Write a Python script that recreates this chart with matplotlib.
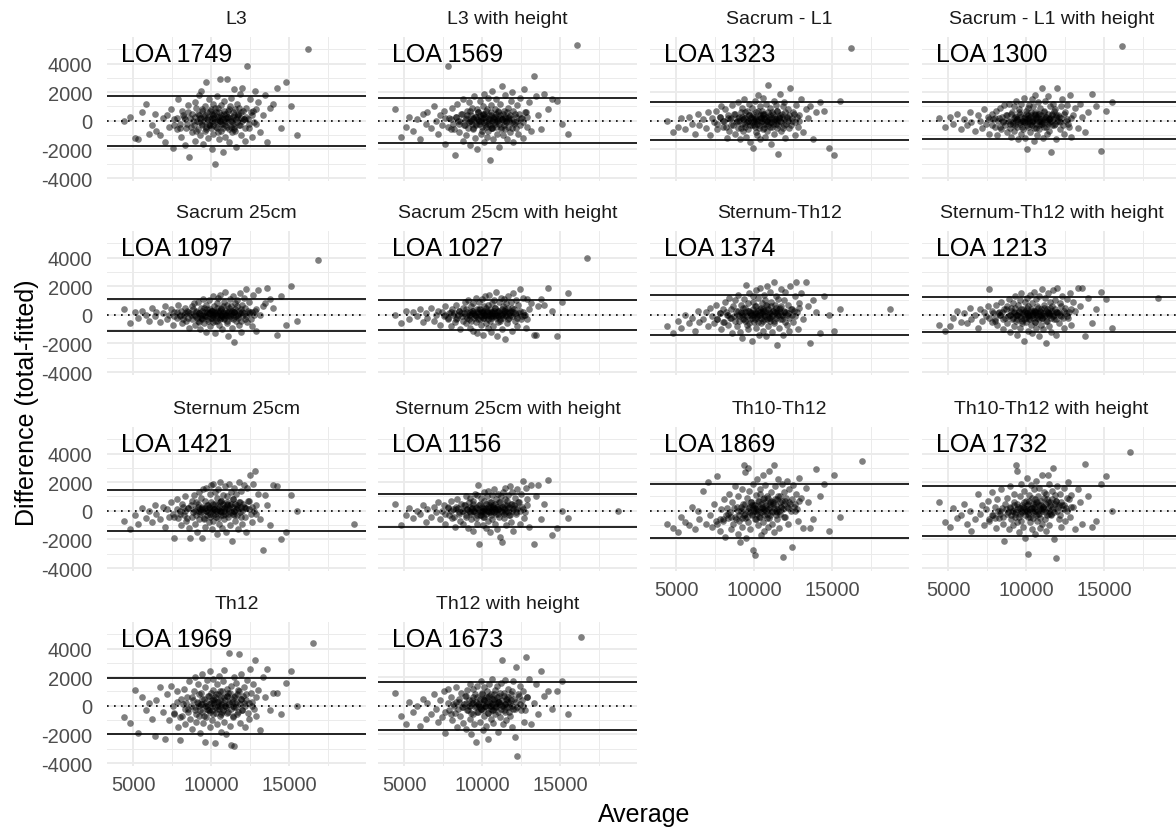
import matplotlib
matplotlib.use("Agg")
import matplotlib.pyplot as plt
from matplotlib.ticker import FixedLocator

plt.rcParams['font.family'] = ['Liberation Sans', 'DejaVu Sans']
plt.rcParams['axes.unicode_minus'] = False

panel_titles = ["L3", "L3 with height", "Sacrum - L1", "Sacrum - L1 with height",
                "Sacrum 25cm", "Sacrum 25cm with height", "Sternum-Th12", "Sternum-Th12 with height",
                "Sternum 25cm", "Sternum 25cm with height", "Th10-Th12", "Th10-Th12 with height",
                "Th12", "Th12 with height"]
loa_values = [1749, 1569, 1323, 1300, 1097, 1027, 1374, 1213, 1421, 1156, 1869, 1732, 1969, 1673]

x_ticks = [5000, 10000, 15000]
x_minor = [7500, 12500, 17500]
y_ticks = [-4000, -2000, 0, 2000, 4000]
y_minor = [-3000, -1000, 1000, 3000, 5000]

# subjects spread over the full range (estimated)
average = [
    4400, 4800, 5100, 5300, 5600, 5800, 6000, 6200, 6400, 6500,
    6700, 6900, 7050, 7200, 7300, 7450, 7550, 7650, 7800, 7900,
    8000, 8100, 8150, 8250, 8350, 8400, 8500, 8600, 8650, 8750,
    8800, 8900, 8950, 9000, 9050, 9100, 9150, 9200, 9250, 9300,
    9350, 9400, 9450, 9500, 9550, 9600, 9620, 9650, 9700, 9750,
    9800, 9850, 9900, 9950, 10000, 10050, 10100, 10120, 10150, 10200,
    10250, 10300, 10350, 10380, 10400, 10450, 10500, 10550, 10600, 10620,
    10650, 10700, 10750, 10800, 10850, 10900, 10950, 11000, 11050, 11100,
    11150, 11200, 11250, 11300, 11350, 11400, 11450, 11500, 11550, 11600,
    11650, 11700, 11800, 11850, 11900, 11950, 12000, 12100, 12200, 12250,
    12300, 12400, 12500, 12600, 12700, 12800, 12900, 13000, 13150, 13300,
    13450, 13600, 13800, 13950, 14200, 14500, 14800, 15100, 15500,
]

# subjects in the dense centre of the clouds (estimated)
core_average = [
    7600, 7800, 8000, 8200, 8300, 8450, 8550, 8700, 8850, 8950,
    9050, 9150, 9250, 9300, 9400, 9450, 9550, 9600, 9700, 9750,
    9800, 9880, 9920, 10000, 10030, 10080, 10150, 10180, 10220, 10280,
    10320, 10370, 10420, 10470, 10520, 10560, 10610, 10660, 10700, 10740,
    10780, 10830, 10880, 10920, 10970, 11020, 11070, 11120, 11180, 11230,
    11280, 11330, 11380, 11430, 11480, 11530, 11580, 11630, 11680, 11730,
    11780, 11830, 11900, 11980, 12050, 12150, 12250, 12350, 12450, 12550,
    12650, 12750, 12850, 9350, 9850, 10050, 10600, 11000, 11500, 12100,
]

diff_l3 = [
    0, 300, -1200, -1300, 600, 1200, -900, -300, 500, -700,
    -1000, 200, -1500, 400, -400, 800, -1900, 100, -600, 1500,
    -200, -1100, 700, 300, -1700, -500, 1100, -2500, 200, -800,
    500, -300, 1300, -1400, 900, 0, -600, 1800, 400, -1000,
    2100, -200, 700, -1600, 300, 1000, -700, 2700, -400, 600,
    -1200, 1500, 100, -300, 800, -2000, 400, 1200, -900, 200,
    -3000, 600, 1700, -500, 0, 900, -1300, 300, 2900, -700,
    1100, -200, -2200, 500, 1400, -1100, 200, 2900, -400, 700,
    -1500, 1000, 0, 1600, -800, 300, 2200, -600, 800, -1800,
    1200, 400, -300, 1900, -1000, 600, 2300, 100, -1400, 900,
    3800, -500, 1500, -1100, 700, 2100, -200, 1300, -800, 400,
    1800, -1500, 900, 1200, 2300, -500, 2700, 1000, -1000,
]
core_l3 = [
    -300, 200, -500, 400, 100, -200, 600, -400, 0, 300,
    -700, 500, -100, 200, 800, -300, 0, 400, -600, 100,
    300, -200, 700, -500, 0, 200, -300, 500, -100, 900,
    -400, 100, 300, -800, 600, 0, -200, 400, 200, -500,
    100, 700, -300, 0, 500, -100, 300, -600, 800, 200,
    -400, 0, 600, -200, 400, -700, 100, 300, -100, 500,
    900, -300, 200, 0, 700, -500, 300, 100, -200, 600,
    400, -100, 800, 200, -300, 500, 0, 300, -400, 100,
]
diff_l3_h = [
    800, -1100, -400, 300, -700, 100, -1300, 500, -200, 600,
    -500, 1000, 0, -900, 400, -300, 700, -1600, 3800, 200,
    -600, 900, -200, -2400, 300, 1200, -800, 0, 500, -1400,
    1500, -300, 200, -1000, 700, -500, 1300, 0, -1700, 400,
    900, -600, 100, 1700, -1200, 300, -200, 800, -2000, 600,
    0, 1400, -900, 200, -400, 1000, -1500, 500, 1900, -300,
    700, -1100, 200, 1600, -700, 0, -2700, 400, 1100, -500,
    2100, -1300, 300, 800, -200, 1500, -900, 0, 600, -1800,
    1200, -400, 2400, 100, -1000, 700, -600, 1800, 0, -1300,
    900, 300, -800, 1400, -100, 2000, -1500, 500, -500, 1100,
    -900, 1600, 200, -1200, 2200, 600, -400, 1300, -700, 3100,
    1700, 400, -600, 1900, 800, 1500, 1400, -200, -900,
]
core_l3_h = [
    200, -400, 100, -600, 300, 0, -200, 500, -300, 100,
    400, -100, 700, 0, -500, 200, 300, -300, 100, 600,
    -200, 400, 0, -700, 200, 500, -100, 300, -400, 0,
    800, -200, 100, 400, -300, 600, 0, -500, 200, 100,
    -100, 300, 500, -400, 0, 700, -200, 200, 400, -600,
    100, 500, -300, 0, 300, -100, 600, -400, 200, 0,
    400, 100, -500, 700, -200, 300, 0, 500, -300, 200,
    -100, 600, 300, -200, 0, 400, -500, 100, 200, -100,
]
diff_sacrum_l1 = [
    0, -800, -400, 200, -600, 300, -200, -900, 500, -300,
    100, -500, 600, -1000, 200, -100, 700, -600, 300, 1000,
    -400, 0, 800, -1200, 400, -700, 200, 1100, -300, 500,
    -900, 0, 1300, -500, 300, -1300, 600, -200, 900, -700,
    1500, -400, 200, -1100, 700, 0, -600, 1200, 400, -1500,
    300, 900, -1900, 100, -300, 1400, -800, 600, 0, -1000,
    1800, -500, 300, 1000, -1300, 200, 700, -600, 1600, -200,
    500, -1100, 1200, 0, -700, 2500, 300, -400, 900, -1600,
    600, -200, 1400, -900, 100, 1100, -500, 700, -2300, 300,
    1900, -700, 500, 1000, -300, 1300, -1200, 200, 800, -500,
    2300, 0, 600, -1000, 1100, -400, 400, 1500, -800, 800,
    200, 1000, -1300, 600, 1300, 700, -1900, -2400, 1400,
]
core_sacrum_l1 = [
    -200, 300, 0, -400, 200, 100, -300, 500, -100, 200,
    0, -500, 300, 100, -200, 600, -100, 0, 400, -300,
    200, -100, 500, 0, -400, 300, 100, -200, 700, 0,
    -300, 400, 200, -100, 0, 500, -500, 200, 100, 300,
    -200, 0, 600, -300, 100, 400, -100, 200, -400, 500,
    0, 300, -200, 100, 700, -300, 200, 0, 400, -100,
    300, -500, 100, 600, -200, 0, 400, -300, 200, 500,
    -100, 300, 0, 200, -300, 100, 400, -100, 0, 300,
]
diff_sacrum_l1_h = [
    200, -400, 300, -200, 500, -600, 100, -300, 600, -100,
    -700, 400, 0, -500, 800, -200, 300, -900, 500, 100,
    -400, 700, -1000, 200, 900, -600, 0, 1100, -300, -800,
    400, 1200, -500, 0, -1100, 600, -200, 1000, -700, 300,
    1400, -400, 100, -1300, 800, -100, 500, -900, 1200, 0,
    -600, 1600, 300, -1200, 700, -2000, 200, 900, -400, 1100,
    -800, 400, 1500, -300, 0, 1000, -1400, 600, 1800, -500,
    200, -1000, 1300, 500, -600, 900, -200, 2300, 0, -1200,
    700, 1400, -400, 300, -900, 1700, 100, -700, 1000, -2200,
    500, 1200, -300, 800, -1300, 400, 2300, 0, -600, 1000,
    1500, -900, 600, 1100, -200, 1800, -1100, 400, 900, -500,
    1200, 300, -800, 600, 1900, 1000, -2100, 700, 1300,
]
core_sacrum_l1_h = [
    100, -300, 200, 0, -400, 300, -100, 400, 0, -200,
    500, -100, 200, -300, 100, 0, 600, -200, 300, -400,
    0, 200, -100, 500, 100, -300, 400, 0, -200, 300,
    600, -100, 0, 200, -500, 400, 100, -200, 300, 0,
    500, -300, 100, 0, 400, -100, 200, 600, -400, 100,
    300, 0, -200, 500, -100, 200, 0, 400, -300, 100,
    700, -200, 300, 0, 400, -100, 200, -300, 500, 0,
    100, -400, 200, 300, -100, 0, 500, -200, 100, 300,
]
diff_sacrum_25 = [
    400, -600, 200, -200, 300, 0, -400, 500, -100, 200,
    -500, 100, 600, -300, 0, 400, -700, 200, -200, 700,
    -100, 300, -600, 0, 500, -400, 200, -900, 100, 600,
    -300, 800, 0, -700, 300, -200, 900, -500, 100, -1000,
    500, 0, -300, 1100, -600, 200, -100, 700, -1200, 400,
    -400, 1000, 100, -800, 300, -200, 1300, 0, -500, 600,
    -1300, 200, 800, -400, 0, 1200, -700, 300, 1400, -200,
    500, -1000, 100, 900, -300, 1600, 0, -600, 700, -1500,
    300, 1100, -200, 600, -900, 1300, -1900, 200, 800, -400,
    1000, 0, -700, 1500, 400, -1200, 700, 1200, -300, 1800,
    -500, 900, 200, -800, 1400, 300, -1100, 1700, 0, 600,
    800, 1900, 1100, 500, -1400, 1300, -700, 2000, -400,
]
core_sacrum_25 = [
    -100, 200, 0, -300, 100, 300, -200, 0, 400, -100,
    200, -400, 100, 0, 300, -200, 500, 0, -100, 200,
    -300, 100, 400, -200, 0, 300, -100, 200, -400, 100,
    0, 500, -200, 300, 100, -300, 0, 400, -100, 200,
    600, -200, 100, 0, 300, -400, 200, 0, 500, -100,
    100, 300, -300, 0, 200, 400, -100, 600, 0, -200,
    300, 100, -400, 200, 0, 500, -100, 300, 100, -300,
    200, 0, 400, -200, 100, 300, 0, -100, 200, 100,
]
diff_sacrum_25_h = [
    0, -600, 300, -300, 200, -100, 400, -500, 100, -200,
    500, -400, 0, 300, -700, 200, -100, 600, -300, 100,
    -800, 400, 0, -500, 700, -200, 300, -1000, 100, 500,
    -400, 900, -100, -600, 200, 1000, -300, 0, -900, 600,
    300, -1100, 800, -200, 0, 1200, -500, 400, -1300, 100,
    900, -300, 200, -700, 1100, -1400, 0, 600, -200, 1300,
    -600, 300, -900, 700, 0, 1400, -400, 200, -1200, 800,
    100, -800, 1000, -100, 500, 1600, -1500, 300, -500, 900,
    -300, 1200, 0, -1000, 600, 1100, -1700, 400, 800, -600,
    1300, -200, 200, 900, -1100, 500, 1500, -400, 1000, -800,
    700, 1800, -300, 1200, 0, -900, 1100, 400, 800, -1400,
    -1400, 600, 1100, 700, 1900, 300, -1500, 900, 1500,
]
core_sacrum_25_h = [
    0, -200, 200, 100, -300, 0, 300, -100, 100, 400,
    -200, 0, 200, -400, 100, 300, 0, -100, 200, -300,
    400, 0, -100, 200, 100, -200, 300, 0, 500, -100,
    200, -300, 0, 100, 400, -200, 200, 0, -100, 300,
    100, 500, -200, 0, 200, -100, 300, -400, 100, 0,
    400, -200, 100, 300, 0, -100, 200, 500, -300, 100,
    0, 300, -100, 200, 400, 0, -200, 100, 300, -100,
    200, 0, -300, 100, 400, 200, -100, 0, 300, 100,
]
diff_sternum_th12 = [
    -800, -1300, -400, -900, 0, -600, -200, -1100, 300, -500,
    -300, 200, -800, 500, -100, -600, 700, -300, 100, -1000,
    400, -500, 900, 0, -700, 1200, -200, -1300, 600, -400,
    1000, -800, 300, 1400, -100, -1200, 700, 0, -1600, 500,
    1100, -400, 200, 2100, -700, 800, -1000, 300, 1500, -300,
    0, -1800, 900, 1300, -500, 200, 1700, -900, 600, -200,
    1200, -1400, 400, 0, 1900, -600, 800, -1100, 300, 1400,
    -300, 1000, -1500, 600, 2000, -800, 200, 1600, -400, 900,
    -1200, 300, 2300, -600, 700, 1300, -2100, 0, 1100, -900,
    500, 1800, -300, -1400, 1000, 200, 1600, -700, 700, -1100,
    2000, 400, -500, 1300, 2300, -1000, 800, 1500, -300, 2300,
    600, -2000, 1000, 200, -1300, 1300, 0, -1100, 400,
]
core_sternum_th12 = [
    -300, 100, -500, 200, 0, -200, 400, -100, 300, 0,
    -400, 200, 100, -300, 500, 0, -100, 300, -600, 200,
    100, -200, 400, 0, -300, 600, 100, -100, 300, -500,
    0, 200, -200, 500, 100, -400, 300, 0, -100, 700,
    200, -300, 0, 400, -200, 100, 600, -100, 0, 300,
    -400, 200, 500, -200, 100, 0, 400, -300, 200, 600,
    0, -100, 300, -500, 200, 100, -200, 400, 0, 300,
    -100, 200, 500, -300, 0, 100, 400, -200, 300, 0,
]
diff_sternum_th12_h = [
    -700, -1100, -800, -200, 300, -500, 100, -600, 500, -300,
    0, -900, 400, -400, 200, -100, 600, 1800, -500, 100,
    -300, 700, -700, 200, 0, 900, -1000, 400, -200, 600,
    -600, 1100, 0, -1200, 500, -300, 800, -800, 200, 1300,
    -400, 0, -1400, 700, 300, -900, 1000, -200, 1500, -600,
    400, -1800, 200, 900, -500, 1200, -1100, 0, 600, -300,
    1400, -700, 300, -1300, 800, 0, 1600, -500, 200, -900,
    1100, -200, 500, -1500, 1300, 300, -700, 1800, 0, -1000,
    700, 1200, -400, -2000, 400, 1500, -800, 100, 900, -1200,
    600, 1700, -300, 1000, -1400, 200, 1900, -600, 800, -100,
    1300, -900, 500, 1100, -200, 1500, -700, 900, 300, 1900,
    600, 1900, -1500, 1200, -600, 400, 1600, 1100, -900,
]
core_sternum_th12_h = [
    -200, 300, -400, 100, 0, 200, -300, 400, -100, 0,
    300, -200, 100, 500, -300, 0, 200, -100, 400, -400,
    100, 0, 300, -200, 500, 100, -100, 0, 200, -300,
    400, 0, -200, 100, 300, -500, 200, 0, 600, -100,
    100, -300, 200, 0, 400, -200, 100, 500, -100, 0,
    300, -400, 100, 200, 0, 500, -200, 100, 300, -100,
    0, 400, -300, 200, 100, 0, 600, -200, 300, 100,
    -100, 200, 400, 0, -300, 100, 300, -200, 0, 200,
]
diff_sternum_25 = [
    -700, -1300, -300, -900, 200, -500, 0, -800, 400, -200,
    -600, 300, -1100, 100, -400, 600, -200, -1900, 800, -500,
    0, -1000, 500, -300, 1000, -700, 200, -1200, -1900, 700,
    -400, 1100, 0, -900, 600, -1500, 300, 1300, -600, 100,
    900, -1900, 200, 1500, -500, -1100, 700, 0, 1600, -300,
    400, -800, 1200, -200, 1800, -1300, 500, 1900, -700, 100,
    1300, -400, 900, -1600, 0, 1500, -900, 600, 2000, -300,
    700, -1200, 1100, 200, -600, 1700, -1500, 400, 1000, -200,
    1900, -1000, 500, 1300, -2100, 800, 0, 1600, -700, 1200,
    300, -1300, 2000, 600, -400, 1400, -900, 1800, 200, -1500,
    1600, 700, 2500, -800, 1900, 2800, -200, 1200, -600, -2700,
    1100, 400, -1000, 1800, 1700, -2000, -1500, 1100, 0,
]
core_sternum_25 = [
    -400, 100, -200, 300, 0, -500, 200, 400, -100, 100,
    -300, 500, 0, -200, 300, 100, -600, 200, 0, 400,
    -100, 300, -400, 600, 0, 200, -300, 100, 500, -200,
    0, 400, 100, -500, 300, 0, 700, -100, 200, -300,
    500, 0, 300, -200, 100, 600, -400, 200, 0, 400,
    -100, 300, 800, -200, 0, 500, 100, -300, 400, 200,
    600, -100, 300, 0, 500, -400, 200, 700, 100, -200,
    300, 0, 400, -100, 200, 100, 0, 500, -300, 300,
]
diff_sternum_25_h = [
    500, -1000, -300, 200, -500, 0, -200, 400, -800, 100,
    -400, 300, -100, 600, -600, 0, 400, -900, 200, -300,
    700, -500, 100, -1100, 300, 800, -200, -700, 500, 0,
    -900, 400, 1000, -400, 100, -1200, 600, -100, 900, -600,
    200, -1400, 700, 0, 1200, -500, 300, -900, 1100, 1800,
    -2300, 500, -300, 900, 0, -1000, 1300, -400, 700, 200,
    -1200, 1000, 0, -700, 1400, 400, -1500, 600, -100, 1100,
    -600, 300, 1500, -900, 100, 800, -1300, 1200, -200, 600,
    -1800, 1000, 300, -2200, 1300, -500, 800, 1600, -1000, 400,
    1100, -300, 1700, -800, 500, 1300, -1400, 900, -100, 1500,
    600, -900, 1200, 2100, -500, 1600, 800, -1100, 1800, -2300,
    1000, 1800, -600, 500, 2150, -1700, -1200, 0, -500,
]
core_sternum_25_h = [
    -200, 300, 0, -400, 100, 200, -100, 0, 400, -300,
    100, 0, 300, -200, 500, 0, -100, 200, -300, 100,
    400, -100, 0, 300, -400, 200, 100, 0, -200, 500,
    0, 300, -100, 200, 600, -300, 100, 0, 400, -100,
    200, 500, -200, 0, 300, 100, -400, 200, 600, 0,
    -100, 300, 100, -200, 400, 0, 700, -100, 200, 300,
    -300, 500, 0, 100, 400, -200, 200, 600, 0, 300,
    100, -100, 400, 200, -300, 0, 300, 100, -100, 200,
]
diff_th10_th12 = [
    -900, -1200, -1500, -400, -800, -1000, 300, -1300, 0, -600,
    1400, -900, 2000, -300, -1100, 500, -700, 2400, -1400, 100,
    -600, 800, -1800, 200, -200, 1200, -1300, 600, -900, 1700,
    -400, 300, -1600, 1000, -700, -2200, 0, 1500, -1100, 500,
    3200, -500, 2700, -1900, 900, 3000, -800, 200, 1400, -1300,
    600, -200, 1900, -2700, 400, -3100, 1100, -600, 0, 2200,
    -1000, 700, 1500, -400, 1200, -1700, 300, 2500, -800, 900,
    -1400, 1800, 200, -500, 1000, -1100, 2800, 500, -300, 1300,
    -900, 600, 3200, -1500, 1700, 0, 800, -600, 2200, -1200,
    1000, 300, 1900, -3200, 1300, -400, 700, 2100, -900, 1500,
    500, -2500, 1800, 0, 1200, -700, 2300, 900, -1200, 1600,
    600, -1200, -600, 2900, 1000, 1900, -1400, 2500, -400,
]
core_th10_th12 = [
    -900, -600, -700, -300, -500, -100, -400, 200, -600, 0,
    -300, 300, -500, 100, -200, 500, -400, 0, 300, -100,
    600, -300, 200, 0, -600, 400, 100, -200, 700, 0,
    -400, 300, 500, -100, 200, 800, -300, 100, 600, 0,
    400, -200, 900, 100, -500, 300, 700, 0, -100, 500,
    200, 800, -300, 400, 100, 1000, 0, 600, -200, 300,
    700, 100, 500, -400, 900, 200, 600, 0, 800, 300,
    500, 100, 700, -300, 400, 200, 0, 600, -100, 300,
]
diff_th10_th12_h = [
    650, -800, -1100, 200, -500, -300, 500, -900, 0, -1400,
    -600, 1200, -200, 400, -1000, 100, 700, -700, 1300, -300,
    300, -1200, 800, -500, 0, 1500, -900, -2100, 500, -200,
    900, -1300, 200, 1700, -600, 0, -1000, 600, 1200, -400,
    3200, -800, 2800, 300, -1500, 1000, -200, 1900, -700, 400,
    -1100, 1400, 0, -1900, 700, 2300, -3000, 500, -400, 1100,
    -800, 1800, 200, -1300, 900, -500, 1500, 0, -1600, 600,
    2100, -700, 1000, -200, 1600, -1200, 400, 2500, -900, 300,
    1300, -600, 1200, -1400, 800, 2500, 1900, -1000, 600, -300,
    1400, 3000, -2000, 1100, -3300, 700, 1700, -600, 1200, -1100,
    400, 1600, -700, 900, 2000, -400, 1100, 300, -1300, 1500,
    600, -900, 3250, 1000, -1100, -700, 1900, 2400, 0,
]
core_th10_th12_h = [
    -600, -300, -500, 0, -200, 200, -400, 100, -100, 300,
    -300, 0, 400, -200, 100, 500, -400, 200, 0, -100,
    300, 600, -300, 100, 0, 400, -200, 700, 100, -400,
    200, 0, 500, -100, 300, 800, -300, 100, 600, 0,
    -200, 400, 200, -500, 700, 0, 300, 100, 900, -100,
    500, -300, 200, 600, 0, 400, -200, 800, 100, 300,
    -100, 500, 700, 0, 300, -300, 600, 100, 400, 200,
    0, 800, 300, -100, 200, 0, 500, 100, -200, 400,
]
diff_th12 = [
    -800, -1200, 1100, -1900, 600, -300, 200, -900, -2100, 400,
    1300, -400, -2300, 800, -1000, 1400, 0, -600, 1000, -1500,
    -2400, 500, -700, 1200, -1300, 200, -200, 1700, -900, 600,
    -1600, 1000, -300, 2000, -1100, 300, 1500, -700, 0, -1900,
    900, -400, 2200, -1200, 500, -2500, 1300, 0, -800, 1800,
    -300, 700, -1500, 2400, 200, -1000, 1100, -600, 1900, 400,
    -2600, 800, -200, 1500, -1300, 300, 2100, -700, 1000, -1800,
    600, -400, 1700, -1100, 2500, 0, -2000, 1200, -500, 900,
    3700, -1400, -2700, 1400, 300, -800, 2000, -2800, 700, 1600,
    -600, 1100, 3600, -1200, 500, 2200, -300, 1300, -1500, 800,
    1800, -900, 2600, 0, 1500, 3200, -700, 1100, -1700, 2000,
    600, 2600, -300, 900, 900, -600, 1600, 2400, 0,
]
core_th12 = [
    -500, 300, -800, 100, -200, 600, -400, 0, 400, -100,
    -600, 200, 800, -300, 100, 500, -700, 0, 300, -200,
    700, 100, -400, 900, 0, -300, 500, 200, -100, 600,
    -500, 300, 0, 800, -200, 400, 100, -600, 1000, 200,
    -300, 600, 0, 400, -100, 700, -400, 300, 100, 900,
    -200, 500, 0, -700, 600, 200, -100, 800, 300, -400,
    1000, 100, 500, -300, 700, 0, 400, -500, 200, 900,
    300, -200, 600, 100, -300, 400, 0, 700, -100, 200,
]
diff_th12_h = [
    900, -700, -1300, 300, -400, 0, -1400, 500, -900, 200,
    -600, 800, -200, -1100, 400, -800, 1000, -1900, 1200, -300,
    600, -1000, 100, -500, 1300, -1500, 300, -700, 900, -100,
    -1200, 700, 200, -1600, 1100, -300, 0, 1500, -900, -2000,
    400, -600, 1200, -1300, 800, 0, -2500, 600, 1400, -400,
    200, -1100, 1700, -200, 900, -1700, 400, -700, 1300, 0,
    -1400, 1000, -500, 600, -2300, 1500, 200, -900, 800, -300,
    1900, -1200, 500, -600, 1100, -100, 1400, -1800, 300, 700,
    -800, 1600, 0, 3200, -1300, 900, -400, 1800, -1000, 500,
    1200, -100, -700, 400, -1500, 1000, 1700, -2200, 2700, -3500,
    800, 1400, -300, 1000, -1100, 3400, 600, 1900, -1300, 200,
    1500, -600, 2400, 700, 1000, -200, 1000, 1700, -600,
]
core_th12_h = [
    -400, 200, -600, 0, 300, -200, 500, -100, 100, 700,
    -300, 400, 0, -500, 200, 600, -100, 300, -400, 100,
    0, 500, -200, 800, 100, -300, 400, 0, 600, -100,
    200, -500, 300, 700, 0, -200, 500, 100, -300, 400,
    800, -100, 200, 0, 600, -400, 300, 100, 900, -200,
    400, 0, -300, 700, 100, 500, -100, 300, 600, -400,
    200, 800, 0, -200, 500, 300, -100, 700, 100, 400,
    0, -300, 600, 200, -100, 500, 0, 300, 100, -200,
]

# one subject whose average differs strongly between models
outlier_average = [16220, 16100, 16230, 16170, 16870, 16720, 18740, 18480,
                   19190, 18740, 16940, 16690, 16540, 16350]
outlier_diff = [5000, 5300, 5100, 5200, 3800, 4000, 400, 1200,
                -950, 0, 3500, 4100, 4400, 4800]

panel_diffs = [diff_l3, diff_l3_h, diff_sacrum_l1, diff_sacrum_l1_h,
               diff_sacrum_25, diff_sacrum_25_h, diff_sternum_th12, diff_sternum_th12_h,
               diff_sternum_25, diff_sternum_25_h, diff_th10_th12, diff_th10_th12_h,
               diff_th12, diff_th12_h]
panel_cores = [core_l3, core_l3_h, core_sacrum_l1, core_sacrum_l1_h,
               core_sacrum_25, core_sacrum_25_h, core_sternum_th12, core_sternum_th12_h,
               core_sternum_25, core_sternum_25_h, core_th10_th12, core_th10_th12_h,
               core_th12, core_th12_h]

W, H = 1176, 828
fig = plt.figure(figsize=(W / 100, H / 100), dpi=100, facecolor='white')

col_left = [107, 378, 650, 922]
panel_w = 259
row_top = [38, 232, 428, 623]
panel_h = 144

grid_col = '#EBEBEB'
tick_col = '#4D4D4D'
pt_size = 23
pt_alpha = 0.5

for i, title in enumerate(panel_titles):
    r, c = divmod(i, 4)
    ax = fig.add_axes([col_left[c] / W, 1 - (row_top[r] + panel_h) / H,
                       panel_w / W, panel_h / H])
    ax.set_xlim(3330, 19930)
    ax.set_ylim(-4200, 5850)
    for s in ax.spines.values():
        s.set_visible(False)
    ax.xaxis.set_major_locator(FixedLocator(x_ticks))
    ax.xaxis.set_minor_locator(FixedLocator(x_minor))
    ax.yaxis.set_major_locator(FixedLocator(y_ticks))
    ax.yaxis.set_minor_locator(FixedLocator(y_minor))
    ax.grid(which='major', color=grid_col, lw=1.4, zorder=0)
    ax.grid(which='minor', color=grid_col, lw=0.7, zorder=0)
    ax.set_axisbelow(True)
    ax.tick_params(which='both', length=0)
    ax.tick_params(axis='y', labelsize=14.5, labelcolor=tick_col, pad=10.5)
    ax.tick_params(axis='x', labelsize=14.5, labelcolor=tick_col, pad=6.5)
    show_x = (r == 3) or (r == 2 and c >= 2)
    if not show_x:
        ax.tick_params(axis='x', labelbottom=False)
    if c != 0:
        ax.tick_params(axis='y', labelleft=False)

    ax.scatter(average, panel_diffs[i], s=pt_size, c='black', alpha=pt_alpha,
               linewidths=0, zorder=2)
    ax.scatter(core_average, panel_cores[i], s=pt_size, c='black', alpha=pt_alpha,
               linewidths=0, zorder=2)
    ax.scatter([outlier_average[i]], [outlier_diff[i]], s=pt_size, c='black',
               alpha=pt_alpha, linewidths=0, zorder=2)

    loa = loa_values[i]
    ax.axhline(loa, color='black', lw=1.2, zorder=3)
    ax.axhline(-loa, color='black', lw=1.2, zorder=3)
    ax.axhline(0, color='black', lw=1.2, ls=(0, (1, 3.2)), zorder=3)

    ax.text(4200, 4200, f"LOA {loa}", fontsize=18, ha='left', va='baseline',
            color='black', zorder=4)
    ax.text(0.5, 1 + 18 / panel_h, title, transform=ax.transAxes, ha='center',
            va='center', fontsize=14, color='#1A1A1A')

fig.text(27 / W, 1 - 403 / H, "Difference (total-fitted)", rotation=90,
         fontsize=18, ha='center', va='center', color='black')
fig.text(644 / W, 1 - 815 / H, "Average", fontsize=18, ha='center',
         va='center', color='black')

fig.savefig('out.png', dpi=100, facecolor='white')
